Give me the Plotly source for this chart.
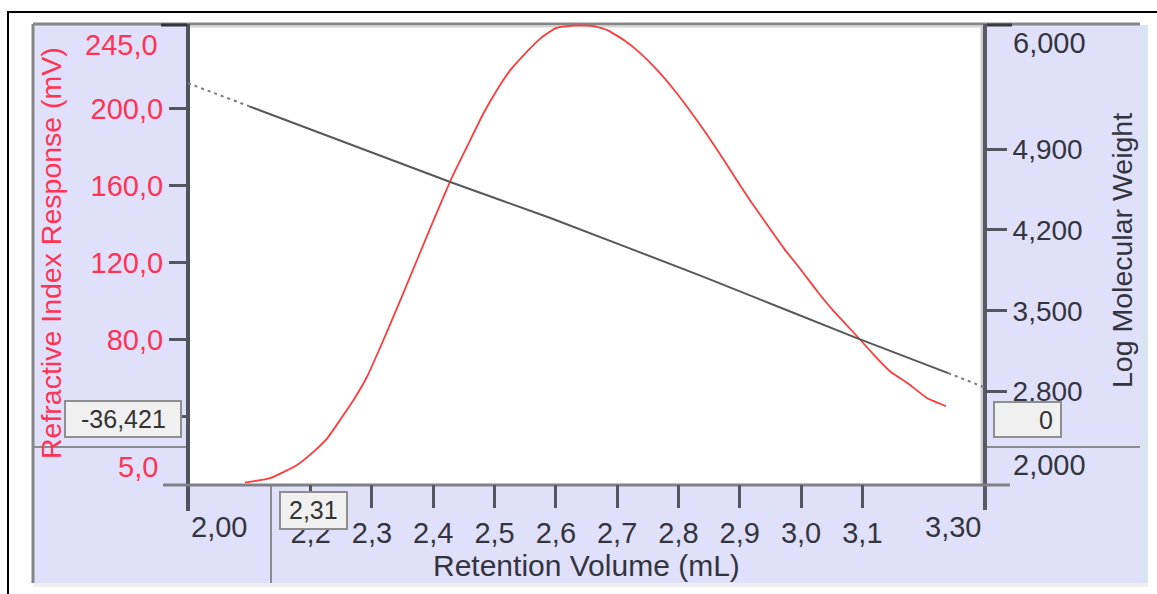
import plotly.graph_objects as go

# Refractive index detector trace: retention volume (mL) vs response (mV)
ri_volume = [2.093, 2.134, 2.178, 2.205, 2.227, 2.248, 2.270, 2.292, 2.314, 2.335,
             2.349, 2.403, 2.431, 2.455, 2.482, 2.504, 2.526, 2.553, 2.575, 2.599,
             2.618, 2.640, 2.662, 2.684, 2.711, 2.738, 2.765, 2.793, 2.820, 2.847,
             2.874, 2.902, 2.918, 2.945, 2.972, 3.000, 3.027, 3.054, 3.092, 3.119,
             3.146, 3.174, 3.206, 3.236]
ri_response = [5.7, 8.0, 14.9, 21.8, 28.7, 38.2, 48.6, 60.7, 76.3, 91.9,
               102.5, 143.9, 164.6, 180.2, 197.6, 209.7, 220.1, 229.6, 236.5, 241.7,
               242.9, 243.2, 242.9, 240.8, 235.6, 228.7, 220.1, 209.7, 198.4, 186.3,
               173.3, 159.4, 151.8, 139.5, 127.4, 116.2, 104.9, 94.5, 81.5, 72.0,
               63.3, 57.3, 49.5, 45.5]

# Log molecular weight calibration; solid within the calibrated window,
# dotted where it is extrapolated
cal_volume = [2.00, 2.10, 2.43, 2.59, 2.84, 3.09, 3.24, 3.30]
cal_logmw = [5.470, 5.270, 4.610, 4.305, 3.795, 3.265, 2.960, 2.835]
cal_window = [2.10, 3.24]

# Axes
x_range = [2.00, 3.30]
x_tickvals = [2.2, 2.3, 2.4, 2.5, 2.6, 2.7, 2.8, 2.9, 3.0, 3.1]
x_ticktext = ["2,2", "2,3", "2,4", "2,5", "2,6", "2,7", "2,8", "2,9", "3,0", "3,1"]
y_range = [5.0, 245.0]
y_tickvals = [40, 80, 120, 160, 200]
y_ticktext = ["", "80,0", "120,0", "160,0", "200,0"]
y2_range = [2.0, 6.0]
y2_tickvals = [2.8, 3.5, 4.2, 4.9]
y2_ticktext = ["2,800", "3,500", "4,200", "4,900"]

# Cursor read-outs
cursor_ri = "-36,421"
cursor_mw = "0"
cursor_rv = "2,31"

W, H = 1157, 594
L, R, T, B = 188, 172, 22, 110
PW, PH = W - L - R, H - T - B


def fx(p):
    return (p - L) / PW


def fy(p):
    return (H - B - p) / PH


def comma(v, nd):
    return f"{v:.{nd}f}".replace(".", ",")


FONT = "Liberation Sans, Arial, sans-serif"
RED = "#ff3355"
DARK = "#34343f"

fig = go.Figure()

fig.add_trace(go.Scatter(
    x=ri_volume, y=ri_response, mode="lines", yaxis="y",
    line=dict(color="#ff3b3b", width=1.8, shape="spline", smoothing=0.4),
    hoverinfo="skip", showlegend=False))

lo, hi = cal_window
left_x = [v for v in cal_volume if v <= lo]
left_y = [m for v, m in zip(cal_volume, cal_logmw) if v <= lo]
mid_x = [v for v in cal_volume if lo <= v <= hi]
mid_y = [m for v, m in zip(cal_volume, cal_logmw) if lo <= v <= hi]
right_x = [v for v in cal_volume if v >= hi]
right_y = [m for v, m in zip(cal_volume, cal_logmw) if v >= hi]

for xs, ys, dash, col in [(left_x, left_y, "3px,4px", "#7a7a7a"),
                          (mid_x, mid_y, "solid", "#575757"),
                          (right_x, right_y, "3px,4px", "#7a7a7a")]:
    fig.add_trace(go.Scatter(
        x=xs, y=ys, mode="lines", yaxis="y2",
        line=dict(color=col, width=2, dash=dash, shape="spline", smoothing=0.5),
        hoverinfo="skip", showlegend=False))


def rect(x0, y0, x1, y1, fill, line_col=None, lw=0, layer="below"):
    return dict(type="rect", xref="paper", yref="paper",
                x0=fx(x0), x1=fx(x1), y0=fy(y0), y1=fy(y1),
                fillcolor=fill, line=dict(color=line_col or fill, width=lw),
                layer=layer)


def seg(x0, y0, x1, y1, col, lw, layer="below"):
    return dict(type="line", xref="paper", yref="paper",
                x0=fx(x0), x1=fx(x1), y0=fy(y0), y1=fy(y1),
                line=dict(color=col, width=lw), layer=layer)


shapes = [
    rect(33, 25, 1140, 583, "#e0e0fa"),
    rect(1140, 25, 1148, 586, "#d8e3f4"),
    rect(33, 583, 1148, 587, "#eeeeee"),
    rect(188, 24, 985, 485, "#ffffff"),
    seg(33, 24, 1140, 24, "#868686", 3),
    seg(188, 26.5, 983, 26.5, "#d6d6d6", 2),
    seg(33, 24, 33, 583, "#868686", 3),
    seg(982, 26, 982, 484, "#cdcdcd", 3),
    # cursor cross-hair stubs
    seg(33, 447, 188, 447, "#8c8c8c", 2),
    seg(985, 447, 1140, 447, "#8c8c8c", 2),
    seg(271, 486, 271, 583, "#8c8c8c", 2),
    # axis frame
    seg(188, 24, 188, 511, "#52525e", 4),
    seg(985, 24, 985, 510, "#5a5a66", 4),
    seg(163, 485, 1010, 485, "#808088", 3),
    seg(161, 25, 187, 25, "#333338", 3),
    seg(987, 25, 1012, 25, "#3a3a40", 3),
    # outer frame
    dict(type="rect", xref="paper", yref="paper",
         x0=fx(8), x1=fx(1175), y0=fy(12), y1=fy(610),
         line=dict(color="#000000", width=2), fillcolor="rgba(0,0,0,0)", layer="below"),
    # read-out boxes
    rect(65, 401, 181, 437, "#f0f0f0", "#8e8e8e", 2, "above"),
    rect(994, 402, 1061, 437, "#f0f0f0", "#8e8e8e", 2, "above"),
    rect(280, 492, 347, 529, "#f0f0f0", "#8e8e8e", 2, "above"),
]

ann = []


def text(s, x, y, size, col, xanchor="center", yanchor="middle", angle=0):
    ann.append(dict(text=s, xref="paper", yref="paper", x=x, y=y,
                    xanchor=xanchor, yanchor=yanchor, showarrow=False,
                    textangle=angle, font=dict(family=FONT, size=size, color=col)))


# end-of-range labels drawn just inside the plotted span
text(comma(y_range[1], 1), fx(160), fy(45), 29, RED, xanchor="right")
text(comma(y_range[0], 1), fx(160), fy(467), 29, RED, xanchor="right")
text(comma(y2_range[1], 3), fx(1011), fy(43), 29, DARK, xanchor="left")
text(comma(y2_range[0], 3), fx(1011), fy(465), 29, DARK, xanchor="left")
text(comma(x_range[0], 2), fx(189), fy(527), 29, DARK, xanchor="left")
text(comma(x_range[1], 2), fx(983), fy(527), 29, DARK, xanchor="right")

# axis titles
text("Retention Volume (mL)", 0.5, fy(565), 30, DARK)
text("Refractive Index Response (mV)", fx(51), 0.5, 28.5, RED, angle=-90)
text("Log Molecular Weight", fx(1122), fy(251), 28.5, DARK, angle=-90)

# read-out values
text(cursor_ri, fx(123), fy(419), 25, "#333333")
text(cursor_mw, fx(1055), fy(419.5), 25, "#333333", xanchor="right")
text(cursor_rv, fx(313.5), fy(510.5), 25, "#333333")

fig.update_layout(
    width=W, height=H,
    margin=dict(l=L, r=R, t=T, b=B, autoexpand=False),
    paper_bgcolor="#ffffff", plot_bgcolor="rgba(0,0,0,0)",
    shapes=shapes, annotations=ann, showlegend=False,
    xaxis=dict(range=x_range, tickvals=x_tickvals, ticktext=x_ticktext,
               ticks="outside", ticklen=23, tickwidth=3, tickcolor="#55555f",
               tickfont=dict(family=FONT, size=29, color=DARK),
               showgrid=False, zeroline=False, showline=False, fixedrange=True),
    yaxis=dict(range=y_range, tickvals=y_tickvals, ticktext=y_ticktext,
               ticks="outside", ticklen=18, tickwidth=3, tickcolor="#55555f",
               tickfont=dict(family=FONT, size=29, color=RED),
               showgrid=False, zeroline=False, showline=False, fixedrange=True),
    yaxis2=dict(range=y2_range, tickvals=y2_tickvals, ticktext=y2_ticktext,
                overlaying="y", side="right",
                ticks="outside", ticklen=21, tickwidth=3, tickcolor="#55555f",
                tickfont=dict(family=FONT, size=28, color=DARK),
                showgrid=False, zeroline=False, showline=False, fixedrange=True),
)

fig.write_html("out.html")
